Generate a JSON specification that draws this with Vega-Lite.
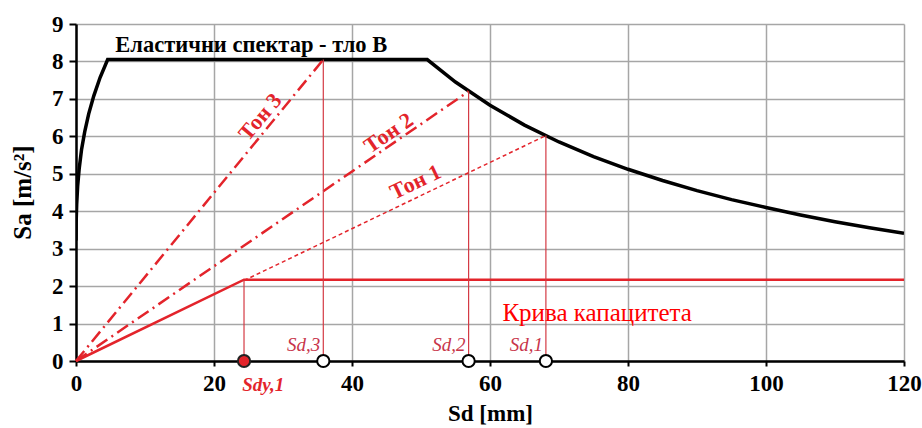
{
  "$schema": "https://vega.github.io/schema/vega-lite/v6.json",
  "width": 828,
  "height": 337,
  "autosize": {"type": "none"},
  "padding": {"left": 76, "top": 24, "right": 18, "bottom": 67},
  "background": "white",
  "config": {
    "view": {"stroke": null},
    "font": "Liberation Serif, DejaVu Serif, serif",
    "axis": {"labelOverlap": false}
  },
  "datasets": {
    "elastic": [
      {"sd": 0, "sa": 3.22},
      {"sd": 0.02, "sa": 3.7},
      {"sd": 0.1, "sa": 4.19},
      {"sd": 0.24, "sa": 4.67},
      {"sd": 0.47, "sa": 5.15},
      {"sd": 0.8, "sa": 5.64},
      {"sd": 1.26, "sa": 6.12},
      {"sd": 1.84, "sa": 6.6},
      {"sd": 2.58, "sa": 7.08},
      {"sd": 3.49, "sa": 7.57},
      {"sd": 4.59, "sa": 8.05},
      {"sd": 50.9, "sa": 8.05},
      {"sd": 55, "sa": 7.45},
      {"sd": 60, "sa": 6.83},
      {"sd": 65, "sa": 6.3},
      {"sd": 70, "sa": 5.85},
      {"sd": 75, "sa": 5.46},
      {"sd": 80, "sa": 5.12},
      {"sd": 85, "sa": 4.82},
      {"sd": 90, "sa": 4.55},
      {"sd": 95, "sa": 4.31},
      {"sd": 100, "sa": 4.1},
      {"sd": 105, "sa": 3.9},
      {"sd": 110, "sa": 3.72},
      {"sd": 115, "sa": 3.56},
      {"sd": 120, "sa": 3.41}
    ],
    "capacity": [
      {"sd": 0, "sa": 0},
      {"sd": 24.35, "sa": 2.17},
      {"sd": 120, "sa": 2.17}
    ],
    "ton1": [
      {"sd": 24.35, "sa": 2.15},
      {"sd": 68.1, "sa": 6.02}
    ],
    "ton23": [
      {"mode": "Тон 2", "sd": 0, "sa": 0},
      {"mode": "Тон 2", "sd": 56.9, "sa": 7.2},
      {"mode": "Тон 3", "sd": 0, "sa": 0},
      {"mode": "Тон 3", "sd": 35.84, "sa": 8.05}
    ],
    "verticals": [
      {"sd": 24.35, "sa": 2.17, "base": 0},
      {"sd": 35.84, "sa": 8.05, "base": 0},
      {"sd": 56.9, "sa": 7.2, "base": 0},
      {"sd": 68.1, "sa": 6.02, "base": 0}
    ],
    "openPts": [
      {"sd": 35.84, "sa": 0},
      {"sd": 56.9, "sa": 0},
      {"sd": 68.1, "sa": 0}
    ],
    "yieldPt": [{"sd": 24.35, "sa": 0}],
    "sdLabels": [
      {"sd": 35.84, "sa": 0.42, "label": "Sd,3"},
      {"sd": 56.9, "sa": 0.42, "label": "Sd,2"},
      {"sd": 68.1, "sa": 0.42, "label": "Sd,1"}
    ]
  },
  "encoding": {
    "x": {"field": "sd", "type": "quantitative",
      "scale": {"domain": [0, 120], "nice": false},
      "axis": {
        "values": [0, 20, 40, 60, 80, 100, 120],
        "title": "Sd [mm]",
        "titleFont": "Liberation Serif, DejaVu Serif, serif", "titleFontSize": 23, "titleFontWeight": "bold", "titleColor": "black",
        "titleY": 52, "titleBaseline": "middle",
        "labelFont": "Liberation Serif, DejaVu Serif, serif", "labelFontSize": 23, "labelFontWeight": "bold", "labelColor": "black",
        "labelPadding": 6, "labelFlush": false, "labelOverlap": false,
        "domainColor": "black", "domainWidth": 2.5,
        "tickColor": "black", "tickWidth": 2, "tickSize": 5,
        "gridColor": "#a6a6a6", "gridWidth": 1.5, "gridOpacity": 1
      }},
    "y": {"field": "sa", "type": "quantitative",
      "scale": {"domain": [0, 9], "nice": false},
      "axis": {
        "values": [0, 1, 2, 3, 4, 5, 6, 7, 8, 9],
        "title": "Sa [m/s²]",
        "titleFont": "Liberation Serif, DejaVu Serif, serif", "titleFontSize": 25, "titleFontWeight": "bold", "titleColor": "black",
        "titleX": -54, "titleY": 168, "titleBaseline": "middle", "titleAlign": "center", "titleAngle": 270,
        "labelFont": "Liberation Serif, DejaVu Serif, serif", "labelFontSize": 23, "labelFontWeight": "bold", "labelColor": "black",
        "labelPadding": 6, "labelFlush": false, "labelOverlap": false,
        "domainColor": "black", "domainWidth": 2.5,
        "tickColor": "black", "tickWidth": 2, "tickSize": 7,
        "gridColor": "#a6a6a6", "gridWidth": 1.5, "gridOpacity": 1
      }}
  },
  "layer": [
    {
      "data": {"name": "elastic"},
      "mark": {"type": "line", "color": "black", "strokeWidth": 3.5, "clip": true}
    },
    {
      "data": {"name": "capacity"},
      "mark": {"type": "line", "color": "#e3242b", "strokeWidth": 2.5}
    },
    {
      "data": {"name": "ton1"},
      "mark": {"type": "line", "color": "#e3242b", "strokeWidth": 1.5, "strokeDash": [4, 3]}
    },
    {
      "data": {"name": "ton23"},
      "mark": {"type": "line", "color": "#e3242b", "strokeWidth": 2.5, "strokeDash": [13, 5, 2, 5]},
      "encoding": {
        "detail": {"field": "mode", "type": "nominal"}
      }
    },
    {
      "data": {"name": "verticals"},
      "mark": {"type": "rule", "color": "#d43a44", "strokeWidth": 1.2},
      "encoding": {
        "y2": {"field": "base"}
      }
    },
    {
      "data": {"name": "openPts"},
      "mark": {"type": "point", "shape": "circle", "filled": true, "fill": "white", "stroke": "black", "strokeWidth": 2, "size": 150, "opacity": 1}
    },
    {
      "data": {"name": "yieldPt"},
      "mark": {"type": "point", "shape": "circle", "filled": true, "fill": "#e3242b", "stroke": "#222222", "strokeWidth": 2, "size": 150, "opacity": 1}
    },
    {
      "data": {"values": [{"sd": 5.7, "sa": 8.45, "label": "Еластични спектар - тло B"}]},
      "mark": {"type": "text", "align": "left", "baseline": "middle", "font": "Liberation Serif, DejaVu Serif, serif", "fontSize": 22.5, "fontWeight": "bold", "color": "black"},
      "encoding": {"text": {"field": "label"}}
    },
    {
      "data": {"values": [{"sd": 26.7, "sa": 6.52, "label": "Тон 3"}]},
      "mark": {"type": "text", "align": "center", "baseline": "middle", "angle": 310, "font": "Liberation Serif, DejaVu Serif, serif", "fontSize": 22, "fontWeight": "bold", "color": "#e3242b"},
      "encoding": {"text": {"field": "label"}}
    },
    {
      "data": {"values": [{"sd": 45.3, "sa": 6.09, "label": "Тон 2"}]},
      "mark": {"type": "text", "align": "center", "baseline": "middle", "angle": 325.6, "font": "Liberation Serif, DejaVu Serif, serif", "fontSize": 22, "fontWeight": "bold", "color": "#e3242b"},
      "encoding": {"text": {"field": "label"}}
    },
    {
      "data": {"values": [{"sd": 49.2, "sa": 4.78, "label": "Тон 1"}]},
      "mark": {"type": "text", "align": "center", "baseline": "middle", "angle": 334.4, "font": "Liberation Serif, DejaVu Serif, serif", "fontSize": 22, "fontWeight": "bold", "color": "#e3242b"},
      "encoding": {"text": {"field": "label"}}
    },
    {
      "data": {"values": [{"sd": 61.8, "sa": 1.28, "label": "Крива капацитета"}]},
      "mark": {"type": "text", "align": "left", "baseline": "middle", "font": "Liberation Serif, DejaVu Serif, serif", "fontSize": 25, "color": "#ff0000"},
      "encoding": {"text": {"field": "label"}}
    },
    {
      "data": {"name": "sdLabels"},
      "mark": {"type": "text", "align": "right", "baseline": "middle", "dx": -3, "font": "Liberation Serif, DejaVu Serif, serif", "fontSize": 19, "fontStyle": "italic", "color": "#c8354a"},
      "encoding": {"text": {"field": "label"}}
    },
    {
      "data": {"values": [{"sd": 24.1, "sa": -0.65, "label": "Sdy,1"}]},
      "mark": {"type": "text", "align": "left", "baseline": "middle", "font": "Liberation Serif, DejaVu Serif, serif", "fontSize": 19, "fontStyle": "italic", "fontWeight": "bold", "color": "#e3242b"},
      "encoding": {"text": {"field": "label"}}
    }
  ]
}
